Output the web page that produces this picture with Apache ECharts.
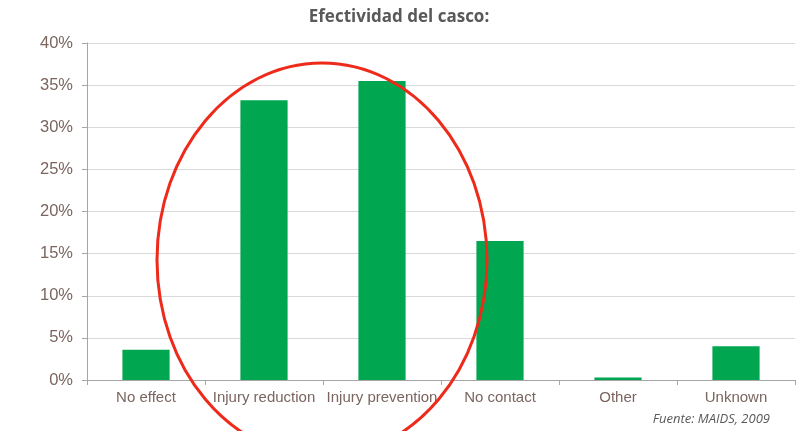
<!DOCTYPE html>
<html><head><meta charset="utf-8">
<script src="https://cdn.jsdelivr.net/npm/echarts@6/dist/echarts.min.js"></script>
<style>html,body{margin:0;padding:0;background:#fff}#c{width:798px;height:431px}</style>
</head><body><div id="c"></div>
<script>
const categories = ['No effect', 'Injury reduction', 'Injury prevention', 'No contact', 'Other', 'Unknown'];
const values = [3.6, 33.2, 35.5, 16.5, 0.3, 4.0];
const yTicks = [0, 5, 10, 15, 20, 25, 30, 35, 40];
const titleText = 'Efectividad del casco:';
const sourceText = 'Fuente: MAIDS, 2009';

const chart = echarts.init(document.getElementById('c'), null, {renderer: 'canvas'});
chart.setOption({
  animation: false,
  backgroundColor: '#ffffff',
  title: {
    text: titleText, left: 'center', top: 4,
    textStyle: {fontFamily: 'Open Sans', fontWeight: 'bold', fontSize: 17, color: '#595959'}
  },
  grid: {left: 87, right: 3, top: 43, bottom: 51, containLabel: false},
  xAxis: {
    type: 'category', data: categories,
    axisLine: {lineStyle: {color: '#a6a6a6', width: 1}},
    axisTick: {show: true, length: 5, lineStyle: {color: '#a6a6a6'}, alignWithLabel: false},
    axisLabel: {color: '#7a6560', fontFamily: 'Liberation Sans', fontSize: 15, margin: 10, interval: 0}
  },
  yAxis: {
    type: 'value', min: yTicks[0], max: yTicks[yTicks.length - 1], interval: 5,
    axisLine: {show: true, lineStyle: {color: '#a6a6a6', width: 1}},
    axisTick: {show: true, length: 5, lineStyle: {color: '#a6a6a6'}},
    axisLabel: {color: '#7a6560', fontFamily: 'Liberation Sans', fontSize: 16.5, margin: 14, formatter: '{value}%'},
    splitLine: {show: true, lineStyle: {color: '#d9d9d9', width: 1}}
  },
  series: [{
    type: 'bar', data: values, barWidth: '40%',
    itemStyle: {color: '#00a650'}
  }],
  graphic: [
    {
      type: 'ellipse', shape: {cx: 322, cy: 260, rx: 165, ry: 197},
      style: {fill: 'none', stroke: '#ee2a1b', lineWidth: 3}, z: 100
    },
    {
      type: 'text', right: 28, top: 413,
      style: {text: sourceText, fontFamily: 'Open Sans', fontStyle: 'italic', fontSize: 13, fill: '#595959'}
    }
  ]
});
</script></body></html>
